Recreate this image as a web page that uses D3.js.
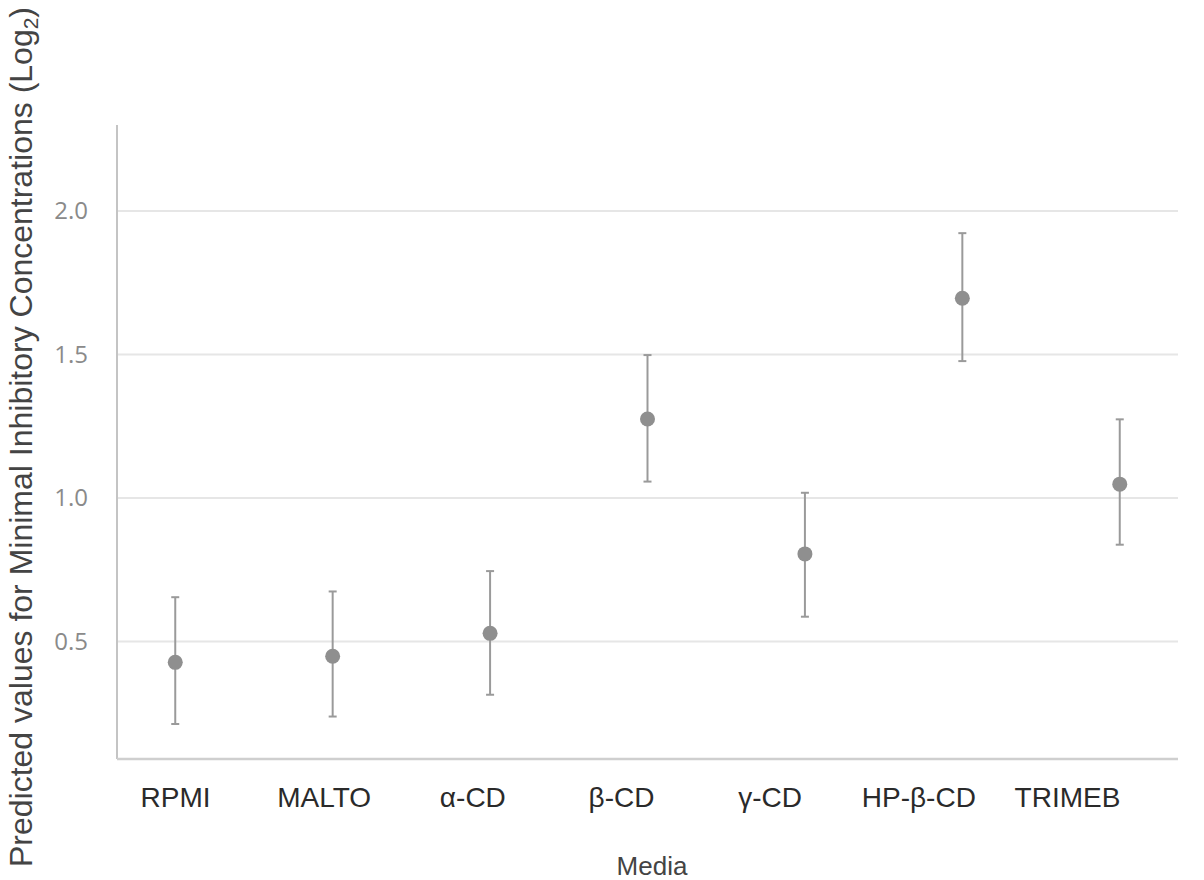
<!DOCTYPE html>
<html>
<head>
<meta charset="utf-8">
<script src="https://cdn.jsdelivr.net/npm/d3@7/dist/d3.min.js"></script>
<style>
  html, body { margin: 0; padding: 0; background: #fff; }
  svg { display: block; }
</style>
</head>
<body>
<svg id="chart" width="1204" height="880"></svg>
<script>
// ---- data ----
const categories = ["RPMI", "MALTO", "α-CD", "β-CD", "γ-CD", "HP-β-CD", "TRIMEB"];
const predicted  = [0.427, 0.448, 0.528, 1.275, 0.805, 1.696, 1.048];
const upperCI    = [0.654, 0.674, 0.745, 1.498, 1.018, 1.923, 1.274];
const lowerCI    = [0.212, 0.238, 0.314, 1.057, 0.586, 1.477, 0.837];
const yTicks     = [0.5, 1.0, 1.5, 2.0];
const xTitle = "Media";
const yTitle = "Predicted values for Minimal Inhibitory Concentrations (Log";

// ---- layout ----
const svg = d3.select("#chart");
const plotLeft = 117, plotRight = 1178, plotTop = 125, plotBottom = 759;

const y = d3.scaleLinear().domain([0.09, 2.3]).range([plotBottom, plotTop]);
const x = d3.scalePoint().domain(categories).range([plotLeft, plotRight]).padding(0.37);
const xLab = d3.scalePoint().domain(categories).range([175, 1067]);

// gridlines
svg.append("g")
  .selectAll("line").data(yTicks).join("line")
  .attr("x1", plotLeft).attr("x2", plotRight)
  .attr("y1", d => y(d)).attr("y2", d => y(d))
  .attr("stroke", "#e6e6e6").attr("stroke-width", 2);

// y axis
const yAxis = svg.append("g").attr("transform", `translate(${plotLeft},0)`)
  .call(d3.axisLeft(y).tickValues(yTicks).tickFormat(d3.format(".1f")).tickSize(0).tickPadding(29));
yAxis.select(".domain").remove();
yAxis.selectAll("text")
  .attr("font-family", "'Open Sans', sans-serif")
  .attr("font-size", 24)
  .attr("fill", "#8a8a8a");
svg.append("line")
  .attr("x1", plotLeft).attr("x2", plotLeft).attr("y1", plotTop).attr("y2", plotBottom)
  .attr("stroke", "#c4c4c4").attr("stroke-width", 2);

// x axis line
svg.append("line")
  .attr("x1", plotLeft).attr("x2", plotRight).attr("y1", plotBottom).attr("y2", plotBottom)
  .attr("stroke", "#cfcfcf").attr("stroke-width", 2.5);

// x labels
const xAxis = svg.append("g").attr("transform", `translate(0,${plotBottom})`)
  .call(d3.axisBottom(xLab).tickSize(0).tickPadding(0));
xAxis.select(".domain").remove();
xAxis.selectAll("text")
  .attr("dy", null).attr("y", 48)
  .attr("font-family", "'Liberation Sans', Arial, sans-serif")
  .attr("font-size", 28)
  .attr("fill", "#2a2a2a");

// error bars
const data = categories.map((c, i) => ({c, v: predicted[i], hi: upperCI[i], lo: lowerCI[i]}));
const eb = svg.append("g").selectAll("g").data(data).join("g");
eb.append("line")
  .attr("x1", d => x(d.c)).attr("x2", d => x(d.c))
  .attr("y1", d => y(d.hi)).attr("y2", d => y(d.lo))
  .attr("stroke", "#9a9a9a").attr("stroke-width", 2);
eb.append("line")
  .attr("x1", d => x(d.c) - 4).attr("x2", d => x(d.c) + 4)
  .attr("y1", d => y(d.hi)).attr("y2", d => y(d.hi))
  .attr("stroke", "#9a9a9a").attr("stroke-width", 2);
eb.append("line")
  .attr("x1", d => x(d.c) - 4).attr("x2", d => x(d.c) + 4)
  .attr("y1", d => y(d.lo)).attr("y2", d => y(d.lo))
  .attr("stroke", "#9a9a9a").attr("stroke-width", 2);
eb.append("circle")
  .attr("cx", d => x(d.c)).attr("cy", d => y(d.v))
  .attr("r", 7.5).attr("fill", "#8f8f8f");

// axis titles
svg.append("text")
  .attr("x", 652).attr("y", 875)
  .attr("text-anchor", "middle")
  .attr("font-family", "'Liberation Sans', Arial, sans-serif")
  .attr("font-size", 26).attr("fill", "#444")
  .text(xTitle);

const yt = svg.append("text")
  .attr("transform", "translate(32,437) rotate(-90)")
  .attr("text-anchor", "middle")
  .attr("font-family", "'Liberation Sans', Arial, sans-serif")
  .attr("font-size", 32).attr("fill", "#444");
yt.append("tspan").text(yTitle);
yt.append("tspan").attr("font-size", 21).attr("dy", 6).text("2");
yt.append("tspan").attr("dy", -6).text(")");
</script>
</body>
</html>
